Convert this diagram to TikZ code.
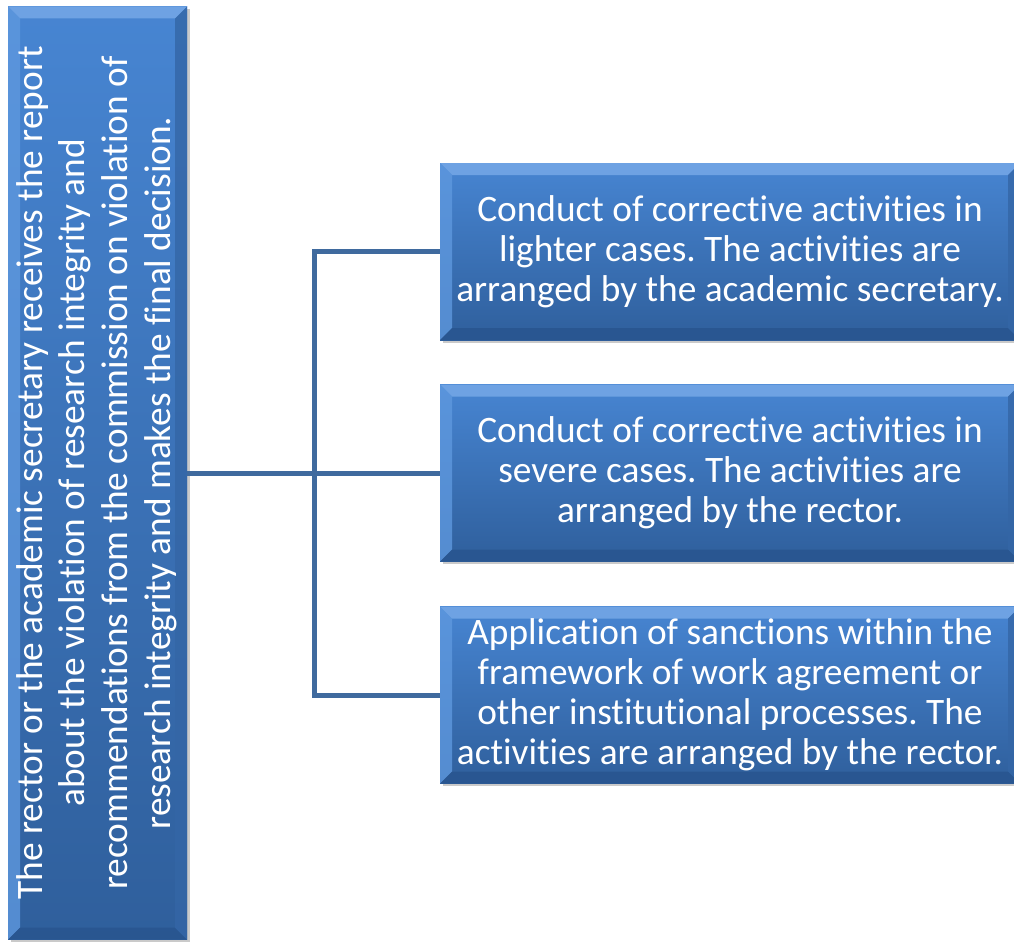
\documentclass[tikz,border=0pt]{standalone}
\usepackage{fontspec}
\setmainfont{Carlito}[Ligatures={NoCommon}]
\frenchspacing
\usetikzlibrary{calc,shadows}
\definecolor{boxtop}{HTML}{4785D2}
\definecolor{boxbot}{HTML}{2F5F9C}
\definecolor{bevlight}{HTML}{78AAE8}
\definecolor{bevleft}{HTML}{5E98DE}
\definecolor{bevdark}{HTML}{28548E}
\definecolor{bevright}{HTML}{3466A6}
\definecolor{linkcol}{HTML}{3F6A9E}
\tikzset{
  panel/.style={
    top color=boxtop, bottom color=boxbot, draw=none,
    text=white, align=center, inner sep=0pt,
    font=\fontsize{28pt}{30pt}\selectfont,
    drop shadow={shadow xshift=2pt, shadow yshift=-2pt, opacity=0.35, fill=black!60},
    path picture={
      \coordinate (nw) at (path picture bounding box.north west);
      \coordinate (ne) at (path picture bounding box.north east);
      \coordinate (sw) at (path picture bounding box.south west);
      \coordinate (se) at (path picture bounding box.south east);
      \fill[bevlight, opacity=0.8] (nw) -- (ne) -- ($(ne)+(-9pt,-9pt)$) -- ($(nw)+(9pt,-9pt)$) -- cycle;
      \fill[bevleft, opacity=0.8] (nw) -- ($(nw)+(9pt,-9pt)$) -- ($(sw)+(9pt,9pt)$) -- (sw) -- cycle;
      \fill[bevdark, opacity=0.8] (sw) -- ($(sw)+(9pt,9pt)$) -- ($(se)+(-9pt,9pt)$) -- (se) -- cycle;
      \fill[bevright, opacity=0.8] (ne) -- (se) -- ($(se)+(-9pt,9pt)$) -- ($(ne)+(-9pt,-9pt)$) -- cycle;
    }},
  sidebox/.style={panel, minimum width=435pt, minimum height=132.75pt},
  conn/.style={draw=linkcol, line width=3.75pt}
}
\begin{document}
\begin{tikzpicture}[x=0.75pt,y=-0.75pt]
\useasboundingbox (0,0) rectangle (1014,942);
\node[panel, minimum width=134.25pt, minimum height=699.75pt] (L) at (97.5,473)
  {\rotatebox{90}{\fontsize{28pt}{32pt}\selectfont\begin{tabular}{@{}c@{}}
  The rector or the academic secretary receives the report\\
  about the violation of research integrity and\\
  recommendations from the commission on violation of\\
  research integrity and makes the final decision.
  \end{tabular}}};
\node[sidebox] (A) at (730,251.5) {Conduct of corrective activities in\\lighter cases. The activities are\\arranged by the academic secretary.};
\node[sidebox] (B) at (730,473) {Conduct of corrective activities in\\severe cases. The activities are\\arranged by the rector.};
\node[sidebox] (C) at (730,695) {Application of sanctions within the\\framework of work agreement or\\other institutional processes. The\\activities are arranged by the rector.};
\coordinate (J) at (314,473);
\draw[conn] (L.east) -- (B.west);
\draw[conn] (A.west) -- (A.west -| J) -- (C.west -| J) -- (C.west);
\end{tikzpicture}
\end{document}
